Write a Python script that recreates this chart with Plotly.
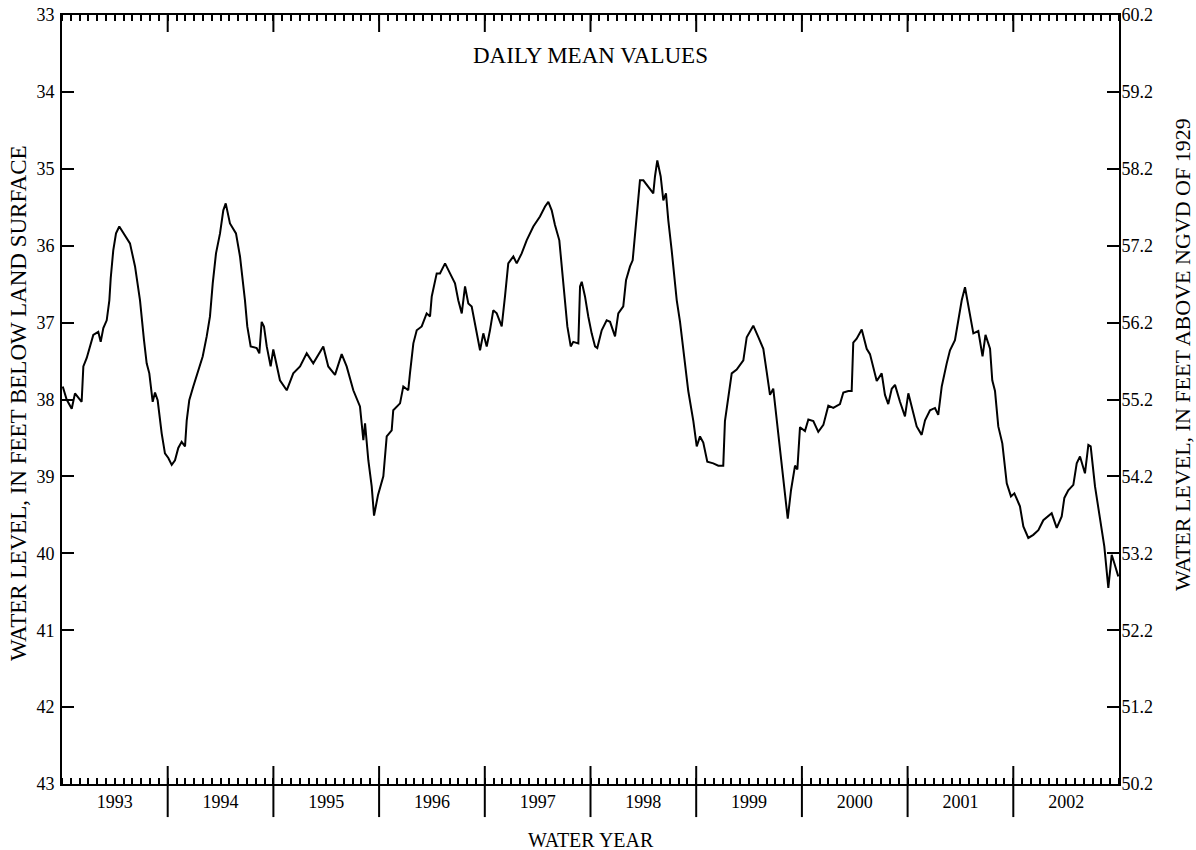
import pandas as pd
import plotly.graph_objects as go

# water years shown on the x axis
water_years = ["1993", "1994", "1995", "1996", "1997", "1998", "1999", "2000", "2001", "2002"]

# time as decimal calendar year, water level in feet below land surface
year_frac = [
    1992.757, 1992.794, 1992.842, 1992.873, 1992.936, 1992.952, 1992.984, 1993.046, 1993.093, 1993.116,
    1993.141, 1993.173, 1993.198, 1993.211, 1993.235, 1993.261, 1993.292, 1993.330, 1993.393, 1993.441,
    1993.488, 1993.526, 1993.551, 1993.576, 1993.608, 1993.630, 1993.655, 1993.693, 1993.724, 1993.756,
    1993.788, 1993.819, 1993.850, 1993.882, 1993.914, 1993.930, 1993.954, 1993.992, 1994.039, 1994.081,
    1994.119, 1994.150, 1994.176, 1994.207, 1994.245, 1994.276, 1994.299, 1994.339, 1994.396, 1994.434,
    1994.481, 1994.503, 1994.535, 1994.592, 1994.617, 1994.639, 1994.661, 1994.687, 1994.724, 1994.749,
    1994.812, 1994.876, 1994.938, 1995.002, 1995.065, 1995.127, 1995.222, 1995.269, 1995.333, 1995.396,
    1995.443, 1995.506, 1995.569, 1995.601, 1995.617, 1995.648, 1995.680, 1995.702, 1995.740, 1995.790,
    1995.822, 1995.869, 1995.884, 1995.948, 1995.979, 1996.026, 1996.042, 1996.074, 1996.106, 1996.153,
    1996.200, 1996.232, 1996.248, 1996.295, 1996.326, 1996.374, 1996.421, 1996.468, 1996.499, 1996.532,
    1996.563, 1996.594, 1996.626, 1996.657, 1996.705, 1996.736, 1996.768, 1996.799, 1996.830, 1996.863,
    1996.910, 1996.941, 1996.972, 1997.020, 1997.052, 1997.099, 1997.146, 1997.209, 1997.272, 1997.320,
    1997.351, 1997.383, 1997.414, 1997.455, 1997.493, 1997.531, 1997.563, 1997.587, 1997.635, 1997.651,
    1997.667, 1997.698, 1997.729, 1997.761, 1997.793, 1997.814, 1997.856, 1997.903, 1997.935, 1997.982,
    1998.013, 1998.060, 1998.086, 1998.124, 1998.149, 1998.171, 1998.193, 1998.218, 1998.250, 1998.297,
    1998.344, 1998.360, 1998.382, 1998.414, 1998.439, 1998.464, 1998.486, 1998.518, 1998.566, 1998.597,
    1998.635, 1998.675, 1998.723, 1998.755, 1998.786, 1998.817, 1998.855, 1998.912, 1998.959, 1999.006,
    1999.022, 1999.054, 1999.086, 1999.133, 1999.196, 1999.228, 1999.290, 1999.338, 1999.385, 1999.417,
    1999.448, 1999.479, 1999.527, 1999.574, 1999.616, 1999.647, 1999.685, 1999.707, 1999.732, 1999.779,
    1999.811, 1999.858, 1999.905, 1999.953, 2000.000, 2000.047, 2000.110, 2000.142, 2000.189, 2000.221,
    2000.236, 2000.268, 2000.316, 2000.363, 2000.394, 2000.458, 2000.505, 2000.536, 2000.567, 2000.600,
    2000.631, 2000.678, 2000.725, 2000.757, 2000.789, 2000.836, 2000.883, 2000.915, 2000.962, 2001.009,
    2001.040, 2001.073, 2001.120, 2001.151, 2001.198, 2001.230, 2001.262, 2001.293, 2001.340, 2001.372,
    2001.419, 2001.459, 2001.487, 2001.530, 2001.551, 2001.577, 2001.608, 2001.646, 2001.688, 2001.728,
    2001.760, 2001.813, 2001.845, 2001.892, 2001.939, 2001.987, 2002.034, 2002.113, 2002.161, 2002.208,
    2002.233, 2002.270, 2002.318, 2002.350, 2002.381, 2002.403, 2002.428, 2002.460, 2002.482, 2002.523,
    2002.570, 2002.611, 2002.649, 2002.681, 2002.706, 2002.743,
]
level_ft = [
    37.83, 38.00, 38.12, 37.92, 38.03, 37.57, 37.46, 37.16, 37.12, 37.25,
    37.07, 36.97, 36.71, 36.42, 36.06, 35.84, 35.75, 35.84, 35.97, 36.27,
    36.71, 37.23, 37.53, 37.66, 38.03, 37.91, 38.01, 38.44, 38.70, 38.76,
    38.85, 38.79, 38.63, 38.55, 38.61, 38.27, 38.01, 37.83, 37.62, 37.44,
    37.18, 36.92, 36.49, 36.10, 35.84, 35.54, 35.45, 35.71, 35.84, 36.14,
    36.71, 37.05, 37.31, 37.33, 37.40, 36.99, 37.05, 37.31, 37.57, 37.35,
    37.75, 37.88, 37.66, 37.57, 37.40, 37.53, 37.31, 37.57, 37.68, 37.41,
    37.57, 37.88, 38.09, 38.53, 38.31, 38.79, 39.13, 39.51, 39.24, 39.00,
    38.48, 38.40, 38.14, 38.05, 37.83, 37.88, 37.66, 37.27, 37.10, 37.05,
    36.88, 36.92, 36.66, 36.36, 36.36, 36.23, 36.36, 36.49, 36.71, 36.88,
    36.53, 36.75, 36.79, 37.01, 37.36, 37.14, 37.31, 37.10, 36.84, 36.88,
    37.05, 36.66, 36.23, 36.14, 36.23, 36.10, 35.93, 35.75, 35.62, 35.49,
    35.43, 35.54, 35.73, 35.93, 36.53, 37.05, 37.31, 37.25, 37.27, 36.53,
    36.47, 36.66, 36.92, 37.14, 37.31, 37.33, 37.10, 36.97, 36.99, 37.18,
    36.88, 36.79, 36.45, 36.27, 36.19, 35.84, 35.54, 35.15, 35.15, 35.23,
    35.32, 35.10, 34.89, 35.10, 35.41, 35.32, 35.67, 36.06, 36.71, 36.99,
    37.45, 37.89, 38.28, 38.61, 38.48, 38.56, 38.81, 38.83, 38.86, 38.86,
    38.28, 37.94, 37.66, 37.61, 37.49, 37.19, 37.04, 37.19, 37.34, 37.64,
    37.94, 37.86, 38.48, 39.08, 39.55, 39.18, 38.86, 38.91, 38.36, 38.41,
    38.26, 38.28, 38.42, 38.33, 38.08, 38.11, 38.06, 37.91, 37.89, 37.89,
    37.26, 37.21, 37.09, 37.34, 37.41, 37.76, 37.66, 37.94, 38.06, 37.86,
    37.81, 38.03, 38.22, 37.92, 38.09, 38.35, 38.46, 38.27, 38.14, 38.11,
    38.20, 37.83, 37.53, 37.36, 37.23, 36.94, 36.71, 36.54, 36.89, 37.14,
    37.11, 37.44, 37.16, 37.34, 37.75, 37.89, 38.35, 38.57, 39.09, 39.26,
    39.22, 39.39, 39.65, 39.80, 39.76, 39.70, 39.57, 39.48, 39.67, 39.52,
    39.28, 39.18, 39.11, 38.83, 38.74, 38.83, 38.96, 38.59, 38.61, 39.13,
    39.57, 39.91, 40.45, 40.02, 40.13, 40.30,
]

# left axis ticks (feet below land surface) and right axis ticks (feet above NGVD of 1929)
depth_ticks = [33, 34, 35, 36, 37, 38, 39, 40, 41, 42, 43]
ngvd_ticks = [50.2, 51.2, 52.2, 53.2, 54.2, 55.2, 56.2, 57.2, 58.2, 59.2, 60.2]

df = pd.DataFrame({"t": year_frac, "level": level_ft})

FONT = "Liberation Serif, Times New Roman, serif"
start = 1992.75
n_years = len(water_years)
year_mid = [start + i + 0.5 for i in range(n_years)]
year_edges = [start + i for i in range(1, n_years)]

fig = go.Figure()
fig.add_trace(go.Scatter(
    x=df["t"], y=df["level"], mode="lines",
    line=dict(color="black", width=2), hoverinfo="skip", showlegend=False))
# dummy trace so the right axis is drawn
fig.add_trace(go.Scatter(x=[None], y=[None], yaxis="y2", showlegend=False, hoverinfo="skip"))

shapes = []
for e in year_edges:
    # year boundary tick at bottom (crosses the axis line) and at top (inside)
    shapes.append(dict(type="line", xref="x", yref="paper", x0=e, x1=e, y0=-0.043, y1=0.0234,
                       line=dict(color="black", width=2)))
    shapes.append(dict(type="line", xref="x", yref="paper", x0=e, x1=e, y0=1 - 0.0221, y1=1,
                       line=dict(color="black", width=2)))

fig.update_layout(
    width=1196, height=850,
    margin=dict(l=62, r=77, t=15, b=66),
    paper_bgcolor="white", plot_bgcolor="white",
    font=dict(family=FONT, size=18, color="black"),
    shapes=shapes,
    xaxis=dict(
        range=[start, start + n_years], tickmode="array", tickvals=year_mid, ticktext=water_years,
        ticks="", showline=True, linewidth=2, linecolor="black", mirror="ticks",
        showgrid=False, zeroline=False, tickfont=dict(family=FONT, size=18), automargin=False,
        ticklabelstandoff=0,
        minor=dict(tickmode="linear", tick0=start, dtick=1 / 12, ticks="inside",
                   ticklen=6, tickwidth=1.5, tickcolor="black", showgrid=False),
    ),
    yaxis=dict(
        range=[43, 33], tickmode="array", tickvals=depth_ticks, ticks="inside", ticklen=12,
        tickwidth=2, tickcolor="black", showline=True, linewidth=2, linecolor="black",
        showgrid=False, zeroline=False, tickfont=dict(family=FONT, size=18), automargin=False,
        ticklabelstandoff=2,
    ),
    yaxis2=dict(
        range=[50.2, 60.2], overlaying="y", side="right", tickmode="array", tickvals=ngvd_ticks,
        ticktext=[f"{v:.1f}" for v in ngvd_ticks], ticks="inside", ticklen=12, tickwidth=2,
        tickcolor="black", showline=True, linewidth=2, linecolor="black",
        showgrid=False, zeroline=False, tickfont=dict(family=FONT, size=18), automargin=False,
        ticklabelstandoff=-3,
    ),
    annotations=[
        dict(text="DAILY MEAN VALUES", xref="paper", yref="paper", x=0.5, y=0.9467,
             xanchor="center", yanchor="middle", showarrow=False, font=dict(family=FONT, size=23)),
        dict(text="WATER YEAR", xref="paper", yref="paper", x=0.5, y=-0.0728,
             xanchor="center", yanchor="middle", showarrow=False, font=dict(family=FONT, size=20)),
        dict(text="WATER LEVEL, IN FEET BELOW LAND SURFACE", xref="paper", yref="paper",
             x=0, y=0.4954, xshift=-44, xanchor="center", yanchor="middle", textangle=-90,
             showarrow=False, font=dict(family=FONT, size=23)),
        dict(text="WATER LEVEL, IN FEET ABOVE NGVD OF 1929", xref="paper", yref="paper",
             x=1, y=0.558, xshift=64, xanchor="center", yanchor="middle", textangle=-90,
             showarrow=False, font=dict(family=FONT, size=22)),
    ],
)

# drop the default page margin so the figure sits at the window's top-left corner
fig.write_html("out.html", config={"displayModeBar": False},
               post_script="document.body.style.margin='0';document.body.style.overflow='hidden';")
